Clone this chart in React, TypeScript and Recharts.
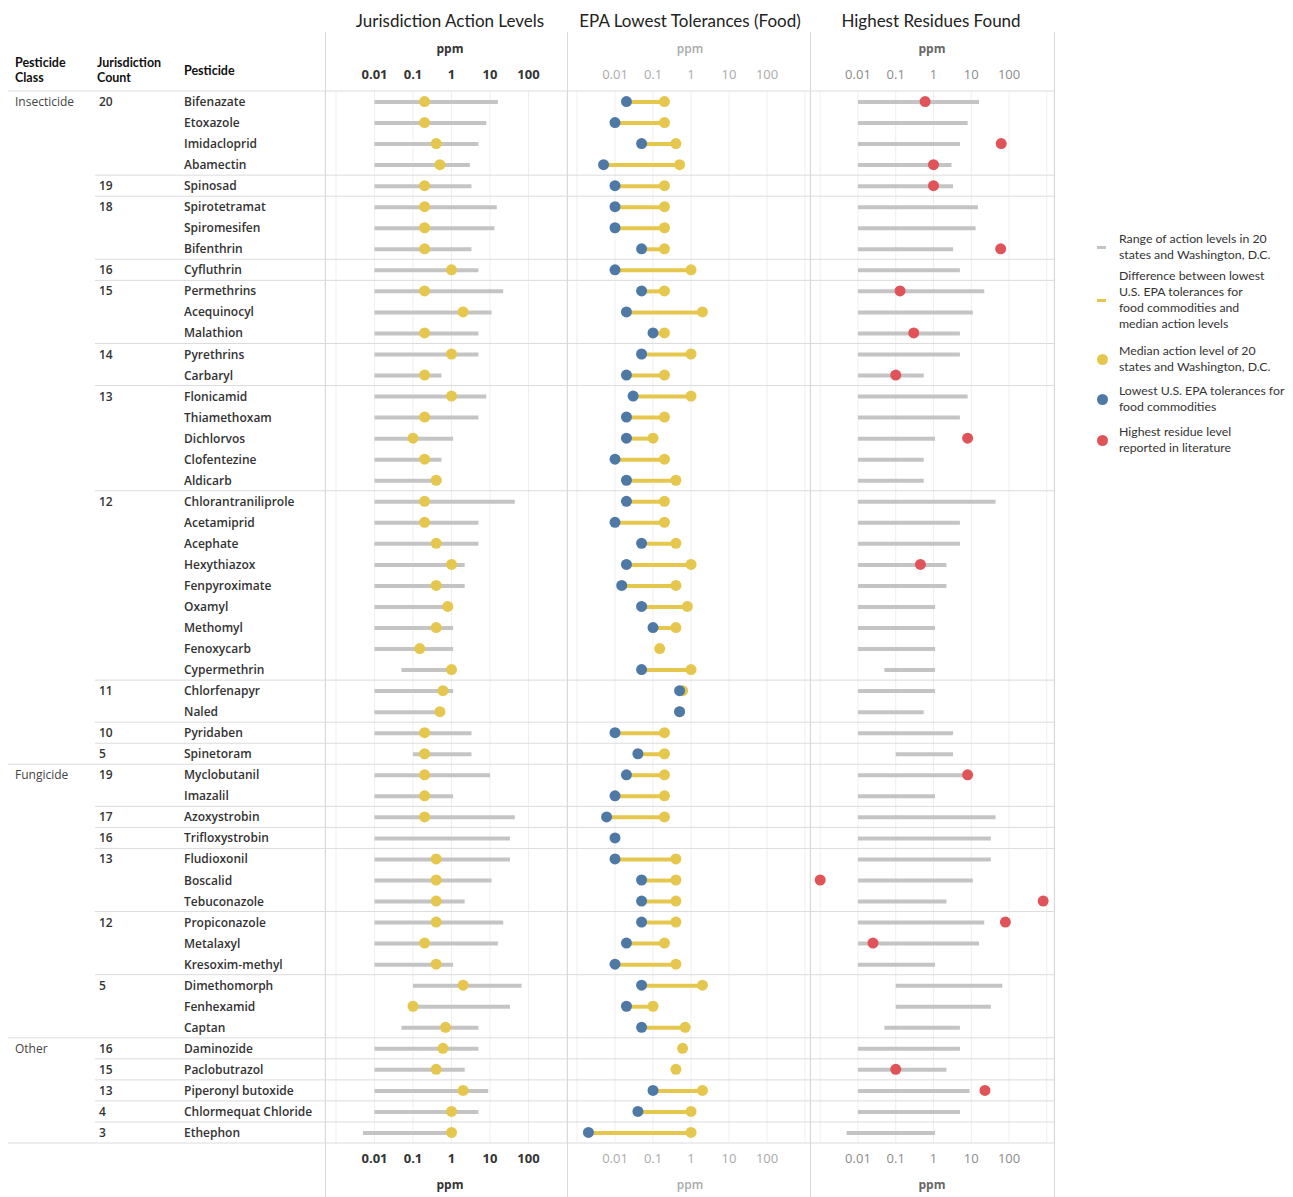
import React from 'react';
import { ComposedChart, Bar, Line, XAxis, YAxis, CartesianGrid, ReferenceLine } from 'recharts';

const pesticides = [
  'Bifenazate', 'Etoxazole', 'Imidacloprid', 'Abamectin', 'Spinosad', 'Spirotetramat', 'Spiromesifen', 'Bifenthrin',
  'Cyfluthrin', 'Permethrins', 'Acequinocyl', 'Malathion', 'Pyrethrins', 'Carbaryl', 'Flonicamid', 'Thiamethoxam',
  'Dichlorvos', 'Clofentezine', 'Aldicarb', 'Chlorantraniliprole', 'Acetamiprid', 'Acephate', 'Hexythiazox',
  'Fenpyroximate', 'Oxamyl', 'Methomyl', 'Fenoxycarb', 'Cypermethrin', 'Chlorfenapyr', 'Naled', 'Pyridaben',
  'Spinetoram', 'Myclobutanil', 'Imazalil', 'Azoxystrobin', 'Trifloxystrobin', 'Fludioxonil', 'Boscalid',
  'Tebuconazole', 'Propiconazole', 'Metalaxyl', 'Kresoxim-methyl', 'Dimethomorph', 'Fenhexamid', 'Captan',
  'Daminozide', 'Paclobutrazol', 'Piperonyl butoxide', 'Chlormequat Chloride', 'Ethephon',
];

const pesticideClasses = [
  ...Array(32).fill('Insecticide'),
  ...Array(13).fill('Fungicide'),
  ...Array(5).fill('Other'),
];

const jurisdictionCounts = [
  20, 20, 20, 20, 19, 18, 18, 18, 16, 15, 15, 15, 14, 14, 13, 13, 13, 13, 13,
  12, 12, 12, 12, 12, 12, 12, 12, 12, 11, 11, 10, 5,
  19, 19, 17, 16, 13, 13, 13, 12, 12, 12, 5, 5, 5,
  16, 15, 13, 4, 3,
];

const actionMin = [
  0.01, 0.01, 0.01, 0.01, 0.01, 0.01, 0.01, 0.01, 0.01, 0.01, 0.01, 0.01, 0.01, 0.01, 0.01, 0.01, 0.01, 0.01, 0.01,
  0.01, 0.01, 0.01, 0.01, 0.01, 0.01, 0.01, 0.01, 0.05, 0.01, 0.01, 0.01, 0.1,
  0.01, 0.01, 0.01, 0.01, 0.01, 0.01, 0.01, 0.01, 0.01, 0.01, 0.1, 0.1, 0.05,
  0.01, 0.01, 0.01, 0.01, 0.005,
];

const actionMax = [
  16, 8, 5, 3, 3.3, 15, 13, 3.3, 5, 22, 11, 5, 5, 0.55, 8, 5, 1.1, 0.55, 0.55,
  44, 5, 5, 2.2, 2.2, 1.1, 1.1, 1.1, 1.1, 1.1, 0.55, 3.3, 3.3,
  10, 1.1, 44, 33, 33, 11, 2.2, 22, 16, 1.1, 66, 33, 5,
  5, 2.2, 9, 5, 1.1,
];

const actionMedian: (number | null)[] = [
  0.2, 0.2, 0.4, 0.5, 0.2, 0.2, 0.2, 0.2, 1, 0.2, 2, 0.2, 1, 0.2, 1, 0.2, 0.1, 0.2, 0.4,
  0.2, 0.2, 0.4, 1, 0.4, 0.8, 0.4, 0.15, 1, 0.6, 0.5, 0.2, 0.2,
  0.2, 0.2, 0.2, null, 0.4, 0.4, 0.4, 0.4, 0.2, 0.4, 2, 0.1, 0.7,
  0.6, 0.4, 2, 1, 1,
];

const epaLowest: (number | null)[] = [
  0.02, 0.01, 0.05, 0.005, 0.01, 0.01, 0.01, 0.05, 0.01, 0.05, 0.02, 0.1, 0.05, 0.02, 0.03, 0.02, 0.02, 0.01, 0.02,
  0.02, 0.01, 0.05, 0.02, 0.015, 0.05, 0.1, null, 0.05, 0.5, 0.5, 0.01, 0.04,
  0.02, 0.01, 0.006, 0.01, 0.01, 0.05, 0.05, 0.05, 0.02, 0.01, 0.05, 0.02, 0.05,
  null, null, 0.1, 0.04, 0.002,
];

const residueMax: (number | null)[] = [
  0.6, null, 62, 1, 1, null, null, 60, null, 0.13, null, 0.3, null, 0.1, null, null, 8, null, null,
  null, null, null, 0.45, null, null, null, null, null, null, null, null, null,
  8, null, null, null, null, 0.001, 800, 80, 0.025, null, null, null, null,
  null, 0.1, 23, null, null,
];

const gridTicks = [0.001, 0.01, 0.1, 1, 10, 100, 1000];

const rows = pesticides.map((name, i) => {
  const med = actionMedian[i];
  const epa = epaLowest[i];
  const anchor = (epa ?? med) as number;
  const classStart = i === 0 || pesticideClasses[i] !== pesticideClasses[i - 1];
  const groupStart = classStart || jurisdictionCounts[i] !== jurisdictionCounts[i - 1];
  return {
    name,
    cls: pesticideClasses[i],
    count: jurisdictionCounts[i],
    range: [actionMin[i], actionMax[i]],
    median: med,
    epa,
    diff: epa != null && med != null ? [epa, med] : [anchor, anchor],
    residue: residueMax[i],
    classStart,
    groupStart,
  };
});

const FONT = "'Open Sans', 'Noto Sans', sans-serif";
const LATO = "'Lato', 'Open Sans', sans-serif";
const TOP_H = 91;
const BOTTOM_H = 54;
const CHART_H = 1197;
const ROW_H = (CHART_H - TOP_H - BOTTOM_H) / rows.length;
const GRAY = '#c4c4c4';
const YELLOW = '#e6c74e';
const BLUE = '#4e79a7';
const RED = '#e05459';
const SEP = '#dcdcdc';
const GRID = '#efefef';

const fmt = (v: number) => (v === 0.001 || v === 1000 ? '' : String(v));

const LabelTick = (props: any) => {
  const { y, payload } = props;
  const i = pesticides.indexOf(payload.value);
  const r = rows[i];
  if (!r) return null;
  const ty = y + 4.5;
  return (
    <g>
      {r.classStart && (
        <text x={15} y={ty} fontSize={12} fontWeight={500} fill="#444" fontFamily={FONT}>{r.cls}</text>
      )}
      {r.groupStart && (
        <text x={99} y={ty} fontSize={12} fontWeight={600} fill="#333" fontFamily={FONT}>{r.count}</text>
      )}
      <text x={184} y={ty} fontSize={12} fontWeight={600} fill="#333" fontFamily={FONT}>{r.name}</text>
      {r.groupStart && (
        <line x1={r.classStart ? 8 : 95} x2={325} y1={y - ROW_H / 2} y2={y - ROW_H / 2} stroke={SEP} />
      )}
      {i === rows.length - 1 && (
        <line x1={8} x2={325} y1={y + ROW_H / 2} y2={y + ROW_H / 2} stroke={SEP} />
      )}
    </g>
  );
};

type PanelProps = {
  width: number;
  domain: [number, number];
  tickStyle: any;
  labelWidth?: number;
  children: React.ReactNode;
};

const Panel = ({ width, domain, tickStyle, labelWidth, children }: PanelProps) => (
  <ComposedChart
    width={width}
    height={CHART_H}
    data={rows}
    layout="vertical"
    margin={{ top: 0, right: 0, bottom: 0, left: 0 }}
  >
    <CartesianGrid xAxisId="t" horizontal={false} vertical stroke={GRID} />
    <XAxis
      xAxisId="t"
      orientation="top"
      type="number"
      scale="log"
      domain={domain}
      allowDataOverflow
      ticks={gridTicks}
      tickFormatter={fmt}
      height={TOP_H}
      axisLine={false}
      tickLine={false}
      tickSize={0}
      tickMargin={12}
      tick={tickStyle}
      interval={0}
    />
    <XAxis
      xAxisId="b"
      orientation="bottom"
      type="number"
      scale="log"
      domain={domain}
      allowDataOverflow
      ticks={gridTicks}
      tickFormatter={fmt}
      height={BOTTOM_H}
      axisLine={{ stroke: SEP }}
      tickLine={false}
      tickSize={0}
      tickMargin={11}
      tick={tickStyle}
      interval={0}
    />
    {labelWidth ? (
      <YAxis
        type="category"
        dataKey="name"
        width={labelWidth}
        axisLine={false}
        tickLine={false}
        interval={0}
        tick={(p: any) => <LabelTick {...p} />}
      />
    ) : (
      <YAxis type="category" dataKey="name" hide width={0} />
    )}
    {rows
      .filter((r) => r.groupStart)
      .map((r) => (
        <ReferenceLine key={r.name} xAxisId="t" y={r.name} position="start" stroke={SEP} strokeWidth={1} />
      ))}
    {children}
  </ComposedChart>
);

const dotStyle = (fill: string) => ({ r: 5.5, fill, stroke: 'none', strokeWidth: 0 });

const boldTick = { fill: '#333', fontSize: 13, fontWeight: 700, fontFamily: FONT };
const lightTick = { fill: '#aaa', fontSize: 13, fontWeight: 400, fontFamily: FONT };
const midTick = { fill: '#8a8a8a', fontSize: 13, fontWeight: 400, fontFamily: FONT };

const abs = (x: number, y: number, extra: React.CSSProperties = {}): React.CSSProperties => ({
  position: 'absolute',
  left: x,
  top: y,
  ...extra,
});

const legendItems = [
  { kind: 'dash', color: GRAY, y: 231, lines: ['Range of action levels in 20', 'states and Washington, D.C.'] },
  {
    kind: 'dash',
    color: YELLOW,
    y: 268,
    lines: ['Difference between lowest', 'U.S. EPA tolerances for', 'food commodities and', 'median action levels'],
  },
  { kind: 'dot', color: YELLOW, y: 343, lines: ['Median action level of 20', 'states and Washington, D.C.'] },
  { kind: 'dot', color: BLUE, y: 383, lines: ['Lowest U.S. EPA tolerances for', 'food commodities'] },
  { kind: 'dot', color: RED, y: 424, lines: ['Highest residue level', 'reported in literature'] },
];

const headerCols = [
  { x: 15, lines: ['Pesticide', 'Class'], y: 55 },
  { x: 97, lines: ['Jurisdiction', 'Count'], y: 55 },
  { x: 184, lines: ['Pesticide'], y: 62.5 },
];

export default function App() {
  const p1Domain: [number, number] = [Math.pow(10, -3.286), 1000];
  const p2Domain: [number, number] = [Math.pow(10, -3.263), Math.pow(10, 3.13)];
  const p3Domain: [number, number] = [Math.pow(10, -3.27), Math.pow(10, 3.19)];
  const borders = [325, 567, 810, 1054];
  const titles = [
    { text: 'Jurisdiction Action Levels', cx: 450 },
    { text: 'EPA Lowest Tolerances (Food)', cx: 690 },
    { text: 'Highest Residues Found', cx: 931 },
  ];
  const ppm = [
    { cx: 450, color: '#333', weight: 700 },
    { cx: 690, color: '#aaa', weight: 600 },
    { cx: 932, color: '#666', weight: 700 },
  ];
  return (
    <div style={{ position: 'absolute', left: 0, top: 0, width: 1293, height: 1197, background: '#fff', fontFamily: FONT, overflow: 'hidden' }}>
      {headerCols.map((h) =>
        h.lines.map((l, k) => (
          <div key={h.x + l} style={abs(h.x, h.y + k * 15, { fontSize: 12.5, fontWeight: 700, lineHeight: '15px', height: 15, color: '#111', whiteSpace: 'nowrap', fontFamily: LATO })}>
            {l}
          </div>
        )),
      )}
      {titles.map((t) => (
        <div key={t.text} style={abs(t.cx - 130, 10, { width: 260, textAlign: 'center', fontSize: 17, lineHeight: '22px', color: '#222', fontFamily: LATO })}>
          {t.text}
        </div>
      ))}
      {ppm.map((p) => (
        <React.Fragment key={p.cx}>
          <div style={abs(p.cx - 30, 41, { width: 60, textAlign: 'center', fontSize: 12, lineHeight: '16px', color: p.color, fontWeight: p.weight })}>ppm</div>
          <div style={abs(p.cx - 30, 1177, { width: 60, textAlign: 'center', fontSize: 12, lineHeight: '16px', color: p.color, fontWeight: p.weight })}>ppm</div>
        </React.Fragment>
      ))}

      <div style={abs(0, 0)}>
        <Panel width={567} domain={p1Domain} tickStyle={boldTick} labelWidth={325}>
          <Bar xAxisId="t" dataKey="range" fill={GRAY} barSize={4} isAnimationActive={false} />
          <Line xAxisId="t" dataKey="median" stroke="none" dot={dotStyle(YELLOW)} activeDot={false} isAnimationActive={false} />
        </Panel>
      </div>
      <div style={abs(567, 0)}>
        <Panel width={243} domain={p2Domain} tickStyle={lightTick}>
          <Bar xAxisId="t" dataKey="diff" fill={YELLOW} barSize={4} isAnimationActive={false} />
          <Line xAxisId="t" dataKey="median" stroke="none" dot={dotStyle(YELLOW)} activeDot={false} isAnimationActive={false} />
          <Line xAxisId="t" dataKey="epa" stroke="none" dot={dotStyle(BLUE)} activeDot={false} isAnimationActive={false} />
        </Panel>
      </div>
      <div style={abs(810, 0)}>
        <Panel width={244} domain={p3Domain} tickStyle={midTick}>
          <Bar xAxisId="t" dataKey="range" fill={GRAY} barSize={4} isAnimationActive={false} />
          <Line xAxisId="t" dataKey="residue" stroke="none" dot={dotStyle(RED)} activeDot={false} isAnimationActive={false} />
        </Panel>
      </div>

      {borders.map((x) => (
        <div key={x} style={abs(x, 32, { width: 1, height: 1165, background: '#d9d9d9' })} />
      ))}

      {legendItems.map((it) => {
        const markY = it.y + (it.lines.length * 16) / 2;
        return (
          <React.Fragment key={it.lines[0]}>
            {it.kind === 'dash' ? (
              <div style={abs(1097, markY - 1.5, { width: 9, height: 3, background: it.color })} />
            ) : (
              <div style={abs(1096.5, markY - 5.5, { width: 11, height: 11, borderRadius: '50%', background: it.color })} />
            )}
            <div style={abs(1119, it.y, { fontSize: 12.3, lineHeight: '16px', color: '#333', fontFamily: LATO, whiteSpace: 'nowrap' })}>
              {it.lines.map((l) => (
                <div key={l}>{l}</div>
              ))}
            </div>
          </React.Fragment>
        );
      })}
    </div>
  );
}
